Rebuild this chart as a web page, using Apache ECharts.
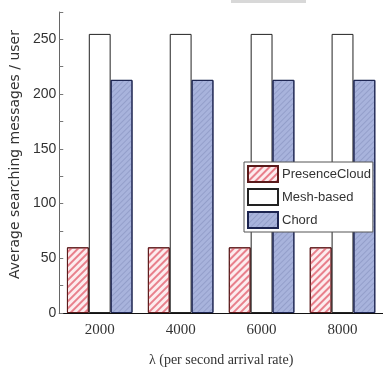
<!DOCTYPE html>
<html><head><meta charset="utf-8">
<script src="https://cdn.jsdelivr.net/npm/echarts@6/dist/echarts.min.js"></script>
<style>html,body{margin:0;padding:0;background:#fff}#c{width:383px;height:372px}</style>
</head><body><div id="c"></div>
<script>
const categories = ['2000', '4000', '6000', '8000'];
const presenceCloud = [60, 60, 60, 60];
const meshBased = [255, 255, 255, 255];
const chord = [213, 213, 213, 213];
const seriesNames = ['PresenceCloud', 'Mesh-based', 'Chord'];

const chart = echarts.init(document.getElementById('c'), null, {renderer: 'canvas'});
chart.setOption({
  animation: false,
  backgroundColor: '#fff',
  grid: {left: 55, top: 12, width: 332, bottom: 58},
  graphic: [{type: 'rect', shape: {x: 231, y: 0, width: 75, height: 3}, style: {fill: '#d8d8d8'}}],
  legend: {
    data: seriesNames,
    orient: 'vertical',
    left: 244, top: 162,
    padding: [3, 2, 3, 3],
    itemGap: 5,
    itemWidth: 30, itemHeight: 16,
    icon: 'rect',
    backgroundColor: '#fff',
    borderColor: '#555', borderWidth: 1,
    textStyle: {fontFamily: 'Liberation Sans', fontSize: 13, color: '#333', padding: [0,0,0,-1]}
  },
  xAxis: {
    type: 'category', data: categories,
    axisLine: {lineStyle: {color: '#111'}},
    axisTick: {inside: true, length: 3, lineStyle: {color: '#555'}},
    axisLabel: {fontFamily: 'Liberation Serif', fontSize: 15, color: '#333', margin: 10},
    name: 'λ (per second arrival rate)', nameLocation: 'middle', nameGap: 40,
    nameTextStyle: {fontFamily: 'Liberation Serif', fontSize: 14, color: '#333'}
  },
  yAxis: {
    type: 'value', min: 0, max: 275, interval: 25,
    splitLine: {show: false},
    axisLine: {show: true, lineStyle: {color: '#666'}},
    axisTick: {show: true, inside: true, length: 4, lineStyle: {color: '#777'}},
    axisLabel: {fontFamily: 'Liberation Sans', fontSize: 14, color: '#333', margin: 3,
      formatter: v => (v % 50 === 0 && v <= 250) ? String(v) : ''},
    name: 'Average searching messages / user', nameLocation: 'middle', nameGap: 33,
    nameTextStyle: {fontFamily: 'DejaVu Sans', fontSize: 14, color: '#333', padding: [0, 0, 0, 16]}
  },
  series: [
    {name: seriesNames[0], type: 'bar', data: presenceCloud, barGap: '0%', barCategoryGap: '19%',
     itemStyle: {color: '#fcecee', borderColor: '#5a1a1a', borderWidth: 1,
       decal: {symbol: 'rect', dashArrayX: [1, 0], dashArrayY: [2, 3], rotation: -Math.PI/4, color: '#e8808c', symbolSize: 1}}},
    {name: seriesNames[1], type: 'bar', data: meshBased, barGap: '0%', barCategoryGap: '19%',
     itemStyle: {color: '#fff', borderColor: '#222', borderWidth: 1}},
    {name: seriesNames[2], type: 'bar', data: chord, barGap: '0%', barCategoryGap: '19%',
     itemStyle: {color: '#a8b3dc', borderColor: '#1c2450', borderWidth: 1,
       decal: {symbol: 'rect', dashArrayX: [1, 0], dashArrayY: [1, 3], rotation: -Math.PI/4, color: 'rgba(110,120,170,0.35)', symbolSize: 1}}}
  ]
});
</script></body></html>
